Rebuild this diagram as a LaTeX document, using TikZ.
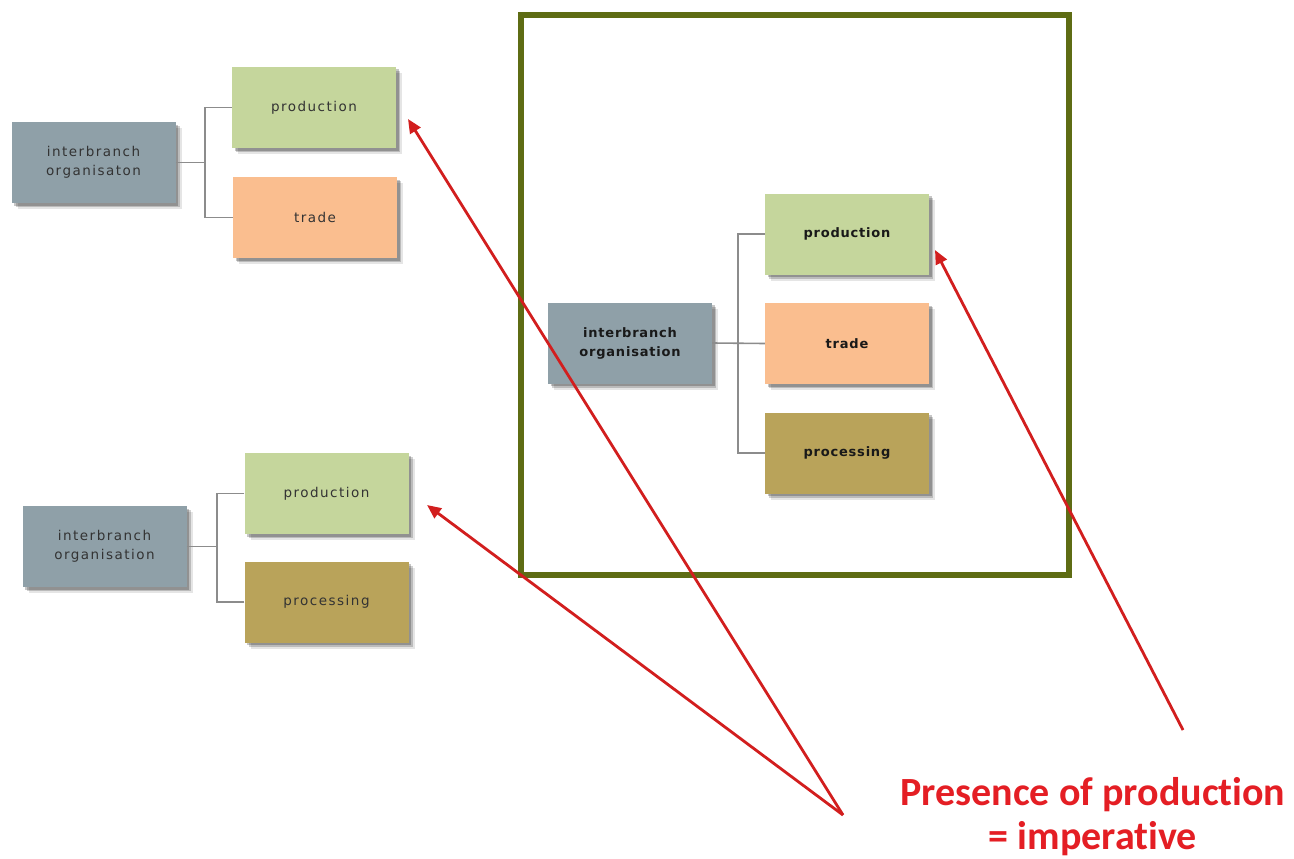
\documentclass[tikz,border=0pt]{standalone}
\usepackage{fontspec}
\setmainfont{DejaVu Sans}
\newfontfamily\calib[RawFeature=-liga]{Carlito}
\newfontfamily\boxfont[LetterSpace=11]{DejaVu Sans}
\newfontfamily\boxfontb[LetterSpace=6]{DejaVu Sans Bold}
\usetikzlibrary{shadows,arrows.meta}
\definecolor{igray}{RGB}{143,160,168}
\definecolor{pgreen}{RGB}{197,214,156}
\definecolor{torange}{RGB}{250,190,143}
\definecolor{qolive}{RGB}{185,163,90}
\definecolor{frameol}{RGB}{94,108,20}
\definecolor{arred}{RGB}{210,30,30}
\definecolor{txred}{RGB}{228,30,36}
\definecolor{conngray}{RGB}{140,140,140}
\tikzset{
  x=1pt, y=-1pt,
  orgbox/.style={draw=none, minimum width=164pt, minimum height=81pt, inner sep=0pt, align=center,
    general shadow={shadow xshift=6pt, shadow yshift=-6pt, fill=black, opacity=0.10},
    general shadow={shadow xshift=4pt, shadow yshift=-4pt, fill=black, opacity=0.18},
    general shadow={shadow xshift=2.5pt, shadow yshift=-2.5pt, fill=black, opacity=0.22}},
  lefttxt/.style={font=\boxfont\fontsize{13.5}{19}\selectfont, text=black!80},
  righttxt/.style={font=\boxfontb\fontsize{13}{19}\selectfont, text=black!90},
  conn/.style={draw=conngray, line width=1.6pt},
  redarrow/.style={draw=arred, line width=2.8pt, -{Triangle[length=14pt,width=12pt]}},
}
\begin{document}
\begin{tikzpicture}
\useasboundingbox[fill=white] (0,0) rectangle (1294,859);

% frame
\draw[frameol, line width=6.5pt] (521,15) rectangle (1069,575);

% top-left group
\node[orgbox, fill=igray, lefttxt] (ia) at (93.5,162.5) {interbranch\\organisaton};
\node[orgbox, fill=pgreen, lefttxt] (pa) at (314,107.5) {production};
\node[orgbox, fill=torange, lefttxt] (ta) at (315,217.5) {trade};
\coordinate (ja) at (205,162.5);
\draw[conn] (ia.east) -- (ja);
\draw[conn] (pa.west) -| (ja);
\draw[conn] (ta.west) -| (ja);

% bottom-left group
\node[orgbox, fill=igray, lefttxt] (ib) at (104.5,546.5) {interbranch\\organisation};
\node[orgbox, fill=pgreen, lefttxt] (pb) at (326.5,493.5) {production};
\node[orgbox, fill=qolive, lefttxt] (qb) at (326.5,602) {processing};
\coordinate (jb) at (217,546.5);
\draw[conn] (ib.east) -- (jb);
\draw[conn] (pb.west) -| (jb);
\draw[conn] (qb.west) -| (jb);

% right group
\node[orgbox, fill=igray, righttxt] (ic) at (630,343) {interbranch\\organisation};
\node[orgbox, fill=pgreen, righttxt] (pc) at (847,234) {production};
\node[orgbox, fill=torange, righttxt] (tc) at (847,343.5) {trade};
\node[orgbox, fill=qolive, righttxt] (qc) at (847,453) {processing};
\coordinate (jc) at (738,343);
\draw[conn] (ic.east) -- (tc.west);
\draw[conn] (pc.west) -| (jc);
\draw[conn] (qc.west) -| (jc);

% red arrows
\coordinate (v) at (843,815);
\coordinate (t1) at (408,119);
\coordinate (t2) at (427,505);
\coordinate (s3) at (1183,730);
\coordinate (t3) at (935,250);
\draw[redarrow] (v) -- (t1);
\draw[redarrow] (v) -- (t2);
\draw[redarrow] (s3) -- (t3);

% label
\node[anchor=base, inner sep=0pt, align=center, text=txred, font=\calib\bfseries\fontsize{40}{44}\selectfont] (lbl) at (1093,849) {Presence of production\\= imperative};
\end{tikzpicture}
\end{document}
